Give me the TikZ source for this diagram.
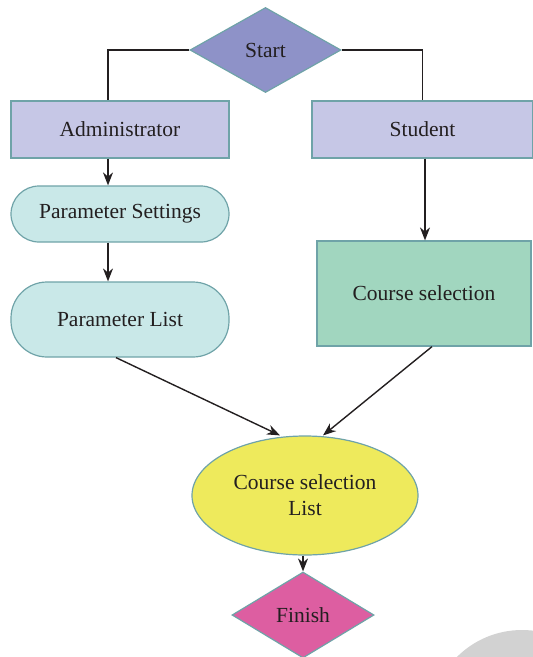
\documentclass[tikz,border=0pt]{standalone}
\usepackage{fontspec}
\setmainfont{Liberation Serif}
\usetikzlibrary{positioning,shapes.geometric,arrows.meta,calc}

\definecolor{startblue}{HTML}{8E92C8}
\definecolor{rolebox}{HTML}{C6C7E6}
\definecolor{paramcyan}{HTML}{C9E8E8}
\definecolor{coursegreen}{HTML}{A1D6BF}
\definecolor{listyellow}{HTML}{EEEA5C}
\definecolor{finishpink}{HTML}{DD5EA1}
\definecolor{edgeteal}{HTML}{6FA3A8}
\definecolor{inkdark}{HTML}{231F20}

\begin{document}
\begin{tikzpicture}[x=1pt,y=-1pt,line width=1.4pt,
	base/.style={draw=edgeteal,line width=1.2pt,text=inkdark,inner sep=0pt,font=\fontsize{21.5}{26}\selectfont,align=center},
	decision/.style={base,diamond,aspect=1.78},
	rolebox/.style={base,rectangle,fill=rolebox},
	pill/.style={base,rectangle,fill=paramcyan},
	flow/.style={-{Stealth[length=13pt,width=10pt]},inkdark}]
		\useasboundingbox (0,0) rectangle (533,657);
		% faint round mark in the corner
		\begin{scope}
			\clip (0,0) rectangle (533,657);
			\fill[gray!35] (522,722) circle (92);
		\end{scope}

		\node[decision,fill=startblue,minimum width=151pt,minimum height=85pt] (start) at (265.5,50) {Start};
		\node[rolebox,minimum width=218pt,minimum height=57pt] (admin) at (120,129.5) {Administrator};
		\node[rolebox,minimum width=221pt,minimum height=57pt] (student) at (422.5,129.5) {Student};

		\node[pill,rounded corners=28pt,minimum width=218pt,minimum height=56pt] (psettings) at (120,214) {Parameter Settings};
		\node[pill,rounded corners=36pt,minimum width=218pt,minimum height=75pt] (plist) at (120,319.5) {Parameter List};
		\node[base,rectangle,fill=coursegreen,minimum width=214pt,minimum height=105pt] (course) at (424,293.5) {Course selection};

		\node[base,ellipse,fill=listyellow,minimum width=226pt,minimum height=119pt] (clist) at (305,495.5) {Course selection\\List};
		\node[decision,fill=finishpink,minimum width=142pt,minimum height=86pt] (finish) at (303,615) {Finish};

		% start splits to both roles
		\draw[inkdark] (start.west) -| ([xshift=-12pt]admin.north);
		\draw[inkdark] (start.east) -| (student.north);

		\draw[flow] ([xshift=-12pt]admin.south) -- ([xshift=-12pt]psettings.north);
		\draw[flow] ([xshift=-12pt]psettings.south) -- ([xshift=-12pt]plist.north);
		\draw[flow] ([xshift=1pt]course.north |- student.south) -- ([xshift=1pt]course.north);

		\draw[flow] ([xshift=-4pt]plist.south) -- ([xshift=-25pt]clist.north);
		\draw[flow] ([xshift=8pt]course.south) -- ([xshift=18pt]clist.north);
		\draw[flow] ([xshift=-2pt]clist.south) -- (finish.north);
	\end{tikzpicture}
\end{document}
